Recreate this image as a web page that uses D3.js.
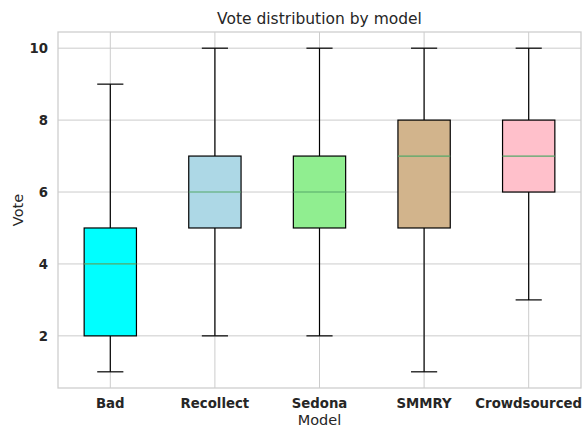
<!DOCTYPE html>
<html>
<head>
<meta charset="utf-8">
<script src="https://cdn.jsdelivr.net/npm/d3@7"></script>
<style>
  body { margin: 0; background: #fff; }
  text { font-family: "DejaVu Sans", sans-serif; fill: #262626; }
</style>
</head>
<body>
<svg id="svg" width="582" height="427"></svg>
<script>
// categories and box stats (low whisker, q1, median, q3, high whisker)
let models = ["Bad", "Recollect", "Sedona", "SMMRY", "Crowdsourced"]
let whiskLow = [1, 2, 2, 1, 3]
let q1 = [2, 5, 5, 5, 6]
let median = [4, 6, 6, 7, 7]
let q3 = [5, 7, 7, 8, 8]
let whiskHigh = [9, 10, 10, 10, 10]
let boxColors = ["cyan", "lightblue", "lightgreen", "tan", "pink"]
let yTicks = [2, 4, 6, 8, 10]

let svg = d3.select("#svg"),
    width = 582,
    height = 427;

let margin = { left: 58, right: 1, top: 32, bottom: 39 };

// positions 1..5, matplotlib style limits
let x = d3.scaleLinear()
    .domain([0.5, 5.5])
    .range([margin.left, width - margin.right]);

let y = d3.scaleLinear()
    .domain([0.55, 10.45])
    .range([height - margin.bottom, margin.top]);

let boxes = models.map(function (m, i) {
  return { name: m, pos: i + 1, lo: whiskLow[i], q1: q1[i], med: median[i], q3: q3[i], hi: whiskHigh[i], color: boxColors[i] };
});

// grid
let grid = svg.append("g");
grid.selectAll(".gy").data(yTicks).enter().append("line")
    .attr("x1", x(0.5)).attr("x2", x(5.5))
    .attr("y1", d => y(d)).attr("y2", d => y(d))
    .attr("stroke", "#cccccc").attr("stroke-width", 1);
grid.selectAll(".gx").data(boxes).enter().append("line")
    .attr("x1", d => x(d.pos)).attr("x2", d => x(d.pos))
    .attr("y1", y(0.55)).attr("y2", y(10.45))
    .attr("stroke", "#cccccc").attr("stroke-width", 1);

// frame
svg.append("rect")
    .attr("x", x(0.5)).attr("y", y(10.45))
    .attr("width", x(5.5) - x(0.5)).attr("height", y(0.55) - y(10.45))
    .attr("fill", "none").attr("stroke", "#cccccc").attr("stroke-width", 1.25);

let g = svg.append("g");
let bw = x(1.25) - x(1) // half box width
let cw = x(1.125) - x(1) // half cap width

let bx = g.selectAll(".box").data(boxes).enter().append("g");

// whiskers
bx.append("line")
    .attr("x1", d => x(d.pos)).attr("x2", d => x(d.pos))
    .attr("y1", d => y(d.lo)).attr("y2", d => y(d.q1))
    .attr("stroke", "#000").attr("stroke-width", 1.2);
bx.append("line")
    .attr("x1", d => x(d.pos)).attr("x2", d => x(d.pos))
    .attr("y1", d => y(d.q3)).attr("y2", d => y(d.hi))
    .attr("stroke", "#000").attr("stroke-width", 1.2);
// caps
bx.append("line")
    .attr("x1", d => x(d.pos) - cw).attr("x2", d => x(d.pos) + cw)
    .attr("y1", d => y(d.lo)).attr("y2", d => y(d.lo))
    .attr("stroke", "#000").attr("stroke-width", 1.2);
bx.append("line")
    .attr("x1", d => x(d.pos) - cw).attr("x2", d => x(d.pos) + cw)
    .attr("y1", d => y(d.hi)).attr("y2", d => y(d.hi))
    .attr("stroke", "#000").attr("stroke-width", 1.2);
// box
bx.append("rect")
    .attr("x", d => x(d.pos) - bw)
    .attr("y", d => y(d.q3))
    .attr("width", 2 * bw)
    .attr("height", d => y(d.q1) - y(d.q3))
    .attr("fill", d => d.color)
    .attr("stroke", "#000").attr("stroke-width", 1.2);
// median
bx.append("line")
    .attr("x1", d => x(d.pos) - bw).attr("x2", d => x(d.pos) + bw)
    .attr("y1", d => y(d.med)).attr("y2", d => y(d.med))
    .attr("stroke", "#55a868").attr("stroke-width", 1.2);

// tick labels
svg.selectAll(".yt").data(yTicks).enter().append("text")
    .attr("x", x(0.5) - 10).attr("y", d => y(d))
    .attr("dy", "0.36em")
    .attr("text-anchor", "end")
    .style("font-size", "13.3px").style("font-weight", "bold")
    .text(d => d);

svg.selectAll(".xt").data(boxes).enter().append("text")
    .attr("x", d => x(d.pos)).attr("y", 408)
    .attr("text-anchor", "middle")
    .style("font-size", "13.3px").style("font-weight", "bold")
    .text(d => d.name);

// axis labels and title
svg.append("text")
    .attr("x", (x(0.5) + x(5.5)) / 2).attr("y", 425)
    .attr("text-anchor", "middle")
    .style("font-size", "14.5px")
    .text("Model");

svg.append("text")
    .attr("transform", "translate(23," + ((y(0.55) + y(10.45)) / 2) + ") rotate(-90)")
    .attr("text-anchor", "middle")
    .style("font-size", "14.5px")
    .text("Vote");

svg.append("text")
    .attr("x", (x(0.5) + x(5.5)) / 2).attr("y", 24)
    .attr("text-anchor", "middle")
    .style("font-size", "15.5px")
    .text("Vote distribution by model");
</script>
</body>
</html>
